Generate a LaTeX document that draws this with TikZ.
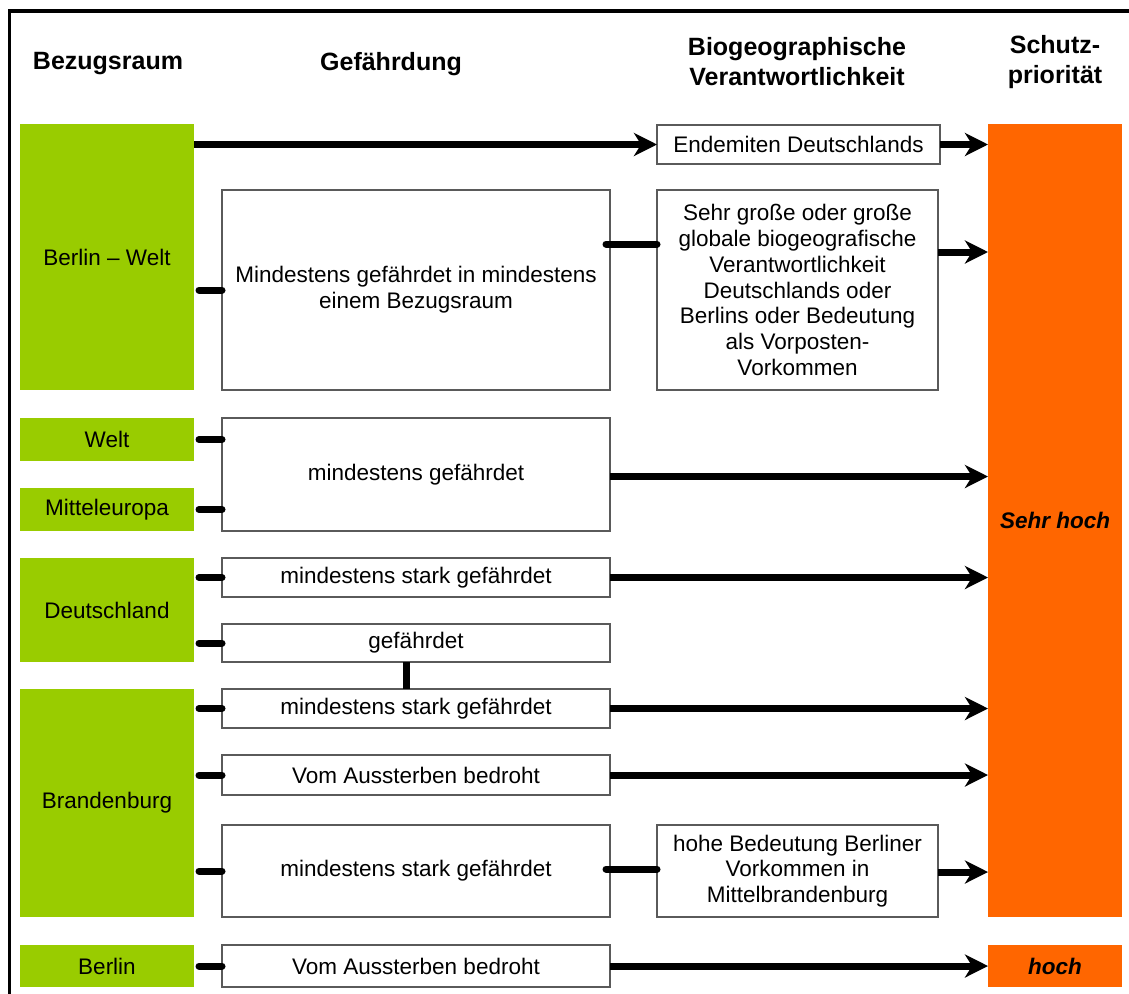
\documentclass[tikz,border=0pt]{standalone}
\usepackage{fontspec}
\setmainfont{Liberation Sans}
\usetikzlibrary{arrows.meta}
\definecolor{lgreen}{RGB}{153,204,0}
\definecolor{orng}{RGB}{255,102,0}
\definecolor{bordergray}{RGB}{90,90,90}
\tikzset{
  txt/.style={font=\fontsize{22.5}{25.7}\selectfont, align=center, inner sep=0pt, outer sep=0pt},
  head/.style={font=\fontsize{25}{30}\selectfont\bfseries, align=center, inner sep=0pt},
  gbox/.style={txt, fill=lgreen, anchor=north west},
  obox/.style={fill=orng, anchor=north west, inner sep=0pt, outer sep=0pt, font=\fontsize{22.5}{25.7}\selectfont\bfseries\itshape},
  wbox/.style={txt, draw=bordergray, line width=1.3pt, fill=white, anchor=north west},
  conn/.style={line width=7pt},
  stub/.style={line width=7pt, line cap=round},
  arr/.style={line width=7pt, -{Stealth[length=23pt,width=23pt,inset=7pt]}},
}
\begin{document}
\begin{tikzpicture}[x=1pt,y=-1pt]
\useasboundingbox (0,0) rectangle (1129,993);
% frame
\draw[line width=3.5pt] (9.5,1000) -- (9.5,11) -- (1140,11);
% headers
\node[head] (h1) at (108,64) {Bezugsraum};
\node[head] (h2) at (391,64) {Gefährdung};
\node[head] (h3) at (797,62) {Biogeographische\\Verantwortlichkeit};
\node[head] (h4) at (1055,62) {Schutz-\\priorität};
% green boxes
\node[gbox, minimum width=174pt, minimum height=266pt] (bw) at (20,124) {Berlin – Welt};
\node[gbox, minimum width=174pt, minimum height=43pt] (we) at (20,418) {Welt};
\node[gbox, minimum width=174pt, minimum height=43pt] (me) at (20,488) {Mitteleuropa};
\node[gbox, minimum width=174pt, minimum height=104pt] (de) at (20,558) {Deutschland};
\node[gbox, minimum width=174pt, minimum height=228pt] (br) at (20,689) {Brandenburg};
\node[gbox, minimum width=174pt, minimum height=42pt] (be) at (20,945) {Berlin};
% orange boxes
\node[obox, minimum width=134pt, minimum height=793pt] (sh) at (988,124) {Sehr hoch};
\node[obox, minimum width=134pt, minimum height=42pt] (ho) at (988,945) {hoch};
% white boxes
\node[wbox, minimum width=283pt, minimum height=39pt] (en) at (657,125) {Endemiten Deutschlands};
\node[wbox, minimum width=388pt, minimum height=200pt] (m1) at (222,190) {Mindestens gefährdet in mindestens\\einem Bezugsraum};
\node[wbox, minimum width=281pt, minimum height=200pt] (sg) at (657,190) {Sehr große oder große\\globale biogeografische\\Verantwortlichkeit\\Deutschlands oder\\Berlins oder Bedeutung\\als Vorposten-\\Vorkommen};
\node[wbox, minimum width=388pt, minimum height=113pt] (m2) at (222,418) {mindestens gefährdet};
\node[wbox, minimum width=388pt, minimum height=39pt] (m3) at (222,558) {mindestens stark gefährdet};
\node[wbox, minimum width=388pt, minimum height=38pt] (m4) at (222,624) {gefährdet};
\node[wbox, minimum width=388pt, minimum height=39pt] (m5) at (222,689) {mindestens stark gefährdet};
\node[wbox, minimum width=388pt, minimum height=40pt] (m6) at (222,755) {Vom Aussterben bedroht};
\node[wbox, minimum width=388pt, minimum height=92pt] (m7) at (222,825) {mindestens stark gefährdet};
\node[wbox, minimum width=281pt, minimum height=92pt] (hb) at (657,825) {hohe Bedeutung Berliner\\Vorkommen in\\Mittelbrandenburg};
\node[wbox, minimum width=388pt, minimum height=42pt] (m8) at (222,945) {Vom Aussterben bedroht};
% stubs
\draw[stub] ([xshift=5pt]bw.east |- m1.west) -- (m1.west);
\draw[stub] ([xshift=5pt]we.east) -- (we.east -| m2.west);
\draw[stub] ([xshift=5pt]me.east) -- (me.east -| m2.west);
\draw[stub] ([xshift=5pt]de.east |- m3.west) -- (m3.west);
\draw[stub] ([xshift=5pt]de.east |- m4.west) -- (m4.west);
\draw[stub] ([xshift=5pt]br.east |- m5.west) -- (m5.west);
\draw[stub] ([xshift=5pt]br.east |- m6.west) -- (m6.west);
\draw[stub] ([xshift=5pt]br.east |- m7.west) -- (m7.west);
\draw[stub] ([xshift=5pt]be.east |- m8.west) -- (m8.west);
\draw[stub] ([xshift=-4pt,yshift=46pt]m1.east) -- ([yshift=46pt]sg.west);
\draw[stub] ([xshift=-4pt,yshift=2pt]m7.east) -- ([yshift=2pt]hb.west);
\draw[conn] ([xshift=-10pt]m4.south) -- ([xshift=-10pt]m5.north);
% arrows
\draw[arr] (bw.east |- en.west) -- (en.west);
\draw[arr] (en.east) -- (en.east -| sh.west);
\draw[arr] ([yshift=38pt]sg.east) -- ([yshift=38pt]sg.east -| sh.west);
\draw[arr] ([yshift=-2pt]m2.east) -- ([yshift=-2pt]m2.east -| sh.west);
\draw[arr] (m3.east) -- (m3.east -| sh.west);
\draw[arr] (m5.east) -- (m5.east -| sh.west);
\draw[arr] (m6.east) -- (m6.east -| sh.west);
\draw[arr] ([yshift=-1pt]hb.east) -- ([yshift=-1pt]hb.east -| sh.west);
\draw[arr] (m8.east) -- (ho.west);
\end{tikzpicture}
\end{document}
